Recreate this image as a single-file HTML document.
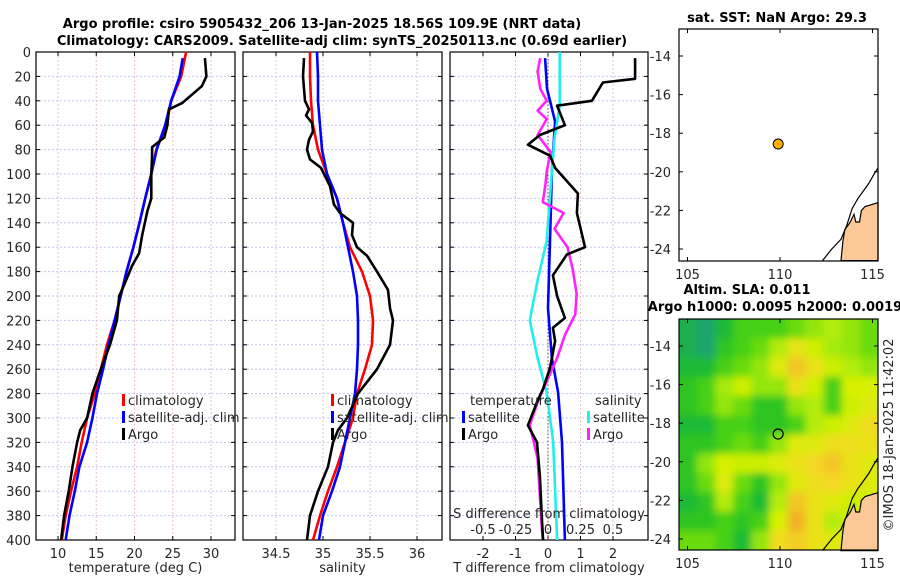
<!DOCTYPE html>
<html><head><meta charset="utf-8"><style>
body{margin:0;background:#fff;}
svg{display:block;font-family:"DejaVu Sans","Liberation Sans",sans-serif;}
.t{font-size:13px;fill:#262626;}
.b{font-size:13px;font-weight:bold;fill:#000;}
</style></head><body>
<svg id="fig" width="900" height="580" viewBox="0 0 900 580">
<text class="b" x="322" y="28" text-anchor="middle">Argo profile: csiro 5905432_206 13-Jan-2025 18.56S 109.9E (NRT data)</text>
<text class="b" x="342" y="45" text-anchor="middle">Climatology: CARS2009. Satellite-adj clim: synTS_20250113.nc (0.69d earlier)</text>
<text class="b" x="777" y="22" text-anchor="middle">sat. SST: NaN Argo: 29.3</text>
<text class="b" x="747" y="294" text-anchor="middle">Altim. SLA: 0.011</text>
<text class="b" x="775" y="311" text-anchor="middle">Argo h1000: 0.0095 h2000: 0.0019</text>
<text class="t" transform="translate(893,435) rotate(-90)" text-anchor="middle">©IMOS 18-Jan-2025 11:42:02</text>
<g id="g"></g>
</svg>
<script>
// ---- data ----
const climDepth=[0,20,40,60,80,100,120,140,160,180,200,220,240,260,280,300,320,340,360,380,400];
const climTemp=[26.75,26.1,24.8,24.15,22.85,22.2,21.4,20.65,19.85,18.95,18.2,17.4,16.4,15.6,14.8,13.8,13.1,12.5,11.7,11.0,10.5];
const satDepth=[5,20,40,60,80,100,120,140,160,180,200,220,240,260,280,300,320,340,360,380,400];
const satTemp=[26.3,25.9,24.8,24.0,22.9,22.2,21.4,20.65,19.85,18.95,18.2,17.4,16.6,15.9,15.1,14.5,13.8,12.8,12.2,11.5,11.0];
const argoDepth=[5,20,28,35,42,47,60,70,78,85,100,120,130,150,165,175,190,200,220,240,260,280,300,310,320,340,360,380,400];
const argoTemp=[29.2,29.4,28.8,27.5,26.2,24.5,24.3,23.9,22.3,22.3,22.2,22.2,21.7,21.0,20.6,19.7,18.7,18.0,17.7,16.8,15.6,14.5,13.8,12.9,12.5,11.9,11.4,10.8,10.4];
const climSal=[34.862,34.862,34.872,34.894,34.947,35.043,35.149,35.213,35.287,35.415,35.5,35.532,35.521,35.447,35.362,35.319,35.234,35.149,35.053,34.968,34.894];
const satSal=[34.936,34.947,34.947,34.968,34.989,35.043,35.149,35.213,35.266,35.319,35.362,35.372,35.372,35.362,35.340,35.287,35.234,35.181,35.096,35.0,34.957];
const argoSalDepth=[5,20,40,47,52,58,65,72,80,88,95,110,125,132,140,150,160,167,180,195,210,220,240,260,280,300,310,320,340,360,380,400];
const argoSal=[34.798,34.787,34.809,34.851,34.819,34.883,34.894,34.851,34.830,34.862,34.979,35.074,35.117,35.181,35.319,35.309,35.362,35.468,35.574,35.691,35.713,35.745,35.713,35.574,35.372,35.255,35.160,35.106,35.053,34.947,34.862,34.830];
const dTArgoDepth=[5,22,25,40,44,60,68,76,85,95,116,132,160,166,183,200,218,226,237,259,276,287,306,320,348,386,400];
const dTArgo=[2.68,2.68,1.69,1.35,0.28,0.52,-0.25,-0.62,0.06,0.22,0.92,0.89,1.14,0.58,0.15,0.28,0.52,0.15,0.22,0.06,-0.15,-0.34,-0.62,-0.34,-0.25,-0.18,-0.15];
const dSArgoDepth=[5,16,30,40,48,55,68,82,98,109,123,132,145,160,178,198,215,232,251,270,287,306,333,386,400];
const dSArgo=[-0.06,-0.08,-0.06,-0.01,-0.08,-0.01,-0.08,0.02,-0.01,-0.02,-0.04,0.12,0.05,0.15,0.19,0.22,0.21,0.13,0.07,-0.01,-0.08,-0.14,-0.08,-0.05,-0.04];
const dTSatDepth=[5,30,57,98,155,210,251,279,320,400];
const dTSat=[-0.09,-0.03,0.22,0.12,0.06,0,0.12,0.31,0.43,0.52];
const dSSatDepth=[0,44,71,112,155,187,220,251,279,320,400];
const dSSat=[0.09,0.09,0.05,0.02,-0.01,-0.08,-0.14,-0.08,-0.01,0.04,0.07];
const depthTicks=[0,20,40,60,80,100,120,140,160,180,200,220,240,260,280,300,320,340,360,380,400];
const tempTicks=[10,15,20,25,30];
const salTicks=[34.5,35,35.5,36];
const dTTicks=[-2,-1,0,1,2];
const dSTicks=[-0.5,-0.25,0,0.25,0.5];
const dSTickLabels=["-0.5","-0.25","0","0.25","0.5"];
const argoLon=109.9, argoLat=-18.56;
const lonTicks=[105,110,115];
const latTicks=[-14,-16,-18,-20,-22,-24];
// SLA field, rows top(north)->bottom, cols west->east, normalised 0..1
const slaGrid=[
[0.35,0.3,0.4,0.5,0.5,0.5,0.55,0.6,0.65,0.6,0.55],
[0.35,0.3,0.45,0.5,0.55,0.65,0.78,0.7,0.62,0.6,0.55],
[0.4,0.4,0.5,0.55,0.6,0.75,0.9,0.8,0.7,0.65,0.6],
[0.45,0.5,0.62,0.7,0.6,0.6,0.8,0.7,0.5,0.72,0.72],
[0.45,0.5,0.6,0.55,0.45,0.45,0.6,0.65,0.5,0.7,0.75],
[0.4,0.4,0.5,0.5,0.45,0.45,0.5,0.65,0.7,0.75,0.82],
[0.45,0.45,0.5,0.55,0.5,0.6,0.75,0.75,0.82,0.82,0.8],
[0.45,0.6,0.72,0.7,0.7,0.75,0.8,0.85,0.9,0.8,0.75],
[0.45,0.55,0.75,0.55,0.45,0.6,0.75,0.82,0.85,0.8,0.75],
[0.4,0.45,0.65,0.5,0.4,0.65,0.9,0.8,0.75,0.7,0.7],
[0.45,0.45,0.5,0.45,0.5,0.72,0.95,0.8,0.65,0.7,0.75],
[0.55,0.55,0.5,0.4,0.6,0.82,0.88,0.8,0.75,0.8,0.8]];
const landLon=[113.3,113.4,113.5,113.8,114.0,114.1,114.3,114.4,114.6,115.3,115.3];
const landLat=[-24.6,-23.6,-23.0,-22.6,-22.2,-22.6,-22.6,-22.0,-21.8,-21.6,-24.6];
const coastLon=[112.3,112.8,113.3,113.6,113.9,114.2,114.5,114.8,115.1,115.3];
const coastLat=[-24.6,-24.0,-23.5,-22.8,-21.9,-21.4,-21.0,-20.6,-20.1,-19.8];

// ---- helpers ----
const NS="http://www.w3.org/2000/svg";
const G=document.getElementById('g');
function mk(tag,at,parent){const e=document.createElementNS(NS,tag);for(const k in at)e.setAttribute(k,at[k]);(parent||G).appendChild(e);return e;}
const Y0=52,Y1=540,yD=d=>Y0+(d/400)*(Y1-Y0);
function lin(d0,d1,r0,r1){return v=>r0+(v-d0)/(d1-d0)*(r1-r0);}

function profileAxes(x0,x1,xs,ticks,labels,xlabel,name,showDepth){
  for(const d of depthTicks){
    const gl=mk('line',{x1:x0,x2:x1,y1:yD(d),y2:yD(d),stroke:'#c3c8ec','stroke-dasharray':'2,2','stroke-width':1});
    
    
    mk('line',{x1:x0,x2:x0+4,y1:yD(d),y2:yD(d),stroke:'#000'});
    mk('line',{x1:x1,x2:x1-4,y1:yD(d),y2:yD(d),stroke:'#000'});
    if(showDepth){const t=mk('text',{x:x0-5,y:yD(d)+5,'text-anchor':'end',class:'t'});t.textContent=d;
      
      }
  }
  ticks.forEach((v,i)=>{const x=xs(v);
    const gl=mk('line',{x1:x,x2:x,y1:Y0,y2:Y1,stroke:'#e6c3c3','stroke-dasharray':'2,2'});
    
    
    mk('line',{x1:x,x2:x,y1:Y1,y2:Y1-4,stroke:'#000'});
    mk('line',{x1:x,x2:x,y1:Y0,y2:Y0+4,stroke:'#000'});
    const t=mk('text',{x:x,y:Y1+18,'text-anchor':'middle',class:'t'});t.textContent=labels[i];
    
    
  });
  const r=mk('rect',{x:x0,y:Y0,width:x1-x0,height:Y1-Y0,fill:'none',stroke:'#000','stroke-width':1.2});
  
  
  const xl=mk('text',{x:(x0+x1)/2,y:572,'text-anchor':'middle',class:'t'});xl.textContent=xlabel;
  
  
}
function series(xs,vals,depths,color,name,w){
  const pts=vals.map((v,i)=>xs(v).toFixed(1)+','+yD(depths[i]).toFixed(1)).join(' ');
  const p=mk('polyline',{points:pts,fill:'none',stroke:color,'stroke-width':w||2.6,'stroke-linejoin':'round'});
  
  
}
function legendItem(x,y,color,label,name){
  mk('rect',{x:x,y:y-11,width:3,height:12,fill:color});
  const t=mk('text',{x:x+6,y:y,class:'t'});t.textContent=label;
  
  
}

// ---- panel 1: temperature ----
const xT=lin(10,30,58,211);
profileAxes(36,235,xT,tempTicks,tempTicks.map(String),'temperature (deg C)','temp-panel',true);
series(xT,climTemp,climDepth,'#ff0000','temp-climatology-line');
series(xT,satTemp,satDepth,'#0000ff','temp-satellite-line');
series(xT,argoTemp,argoDepth,'#000','temp-argo-line');
legendItem(122,405,'#ff0000','climatology','legend-climatology');
legendItem(122,422,'#0000ff','satellite-adj. clim','legend-satellite');
legendItem(122,439,'#000','Argo','legend-argo');

// ---- panel 2: salinity ----
const xS=lin(35,36,323,417);
profileAxes(243,442,xS,salTicks,salTicks.map(String),'salinity','sal-panel',false);
series(xS,climSal,climDepth,'#ff0000','sal-climatology-line');
series(xS,satSal,climDepth,'#0000ff','sal-satellite-line');
series(xS,argoSal,argoSalDepth,'#000','sal-argo-line');
legendItem(331,405,'#ff0000','climatology','legend-sal-climatology');
legendItem(331,422,'#0000ff','satellite-adj. clim','legend-sal-satellite');
legendItem(331,439,'#000','Argo','legend-sal-argo');

// ---- panel 3: differences ----
const xdT=lin(0,2,548,613);
const xdS=lin(0,0.5,548,613);
profileAxes(450,648,xdT,dTTicks,dTTicks.map(String),'T difference from climatology','diff-panel',false);
const zl=mk('line',{x1:xdT(0),x2:xdT(0),y1:Y0,y2:Y1,stroke:'#555','stroke-dasharray':'1.5,2'});


series(xdT,dTSat,dTSatDepth,'#0000ff','dT-satellite-line');
series(xdS,dSSat,dSSatDepth,'#22eeee','dS-satellite-line');
series(xdS,dSArgo,dSArgoDepth,'#ff22ff','dS-argo-line');
series(xdT,dTArgo,dTArgoDepth,'#000','dT-argo-line');
dSTicks.forEach((v,i)=>{const t=mk('text',{x:xdS(v),y:534,'text-anchor':'middle',class:'t'});t.textContent=dSTickLabels[i];
  
  });
{const t=mk('text',{x:549,y:518,'text-anchor':'middle',class:'t'});t.textContent='S difference from climatology';
 
 }
{const t=mk('text',{x:470,y:405,class:'t'});t.textContent='temperature';
 
 
 const s=mk('text',{x:595,y:405,class:'t'});s.textContent='salinity';
 
 }
legendItem(462,422,'#0000ff','satellite','legend-dT-satellite');
legendItem(462,439,'#000','Argo','legend-dT-argo');
legendItem(587,422,'#22eeee','satellite','legend-dS-satellite');
legendItem(587,439,'#ff22ff','Argo','legend-dS-argo');

// ---- maps ----
const mLon=lin(110,115,780,872.5);
function mapAxes(top,bot,name){
  const mLat=lin(-14,-24,top+27,top+27+193);
  lonTicks.forEach(v=>{const x=mLon(v);
    mk('line',{x1:x,x2:x,y1:bot,y2:bot-4,stroke:'#000'});mk('line',{x1:x,x2:x,y1:top,y2:top+4,stroke:'#000'});
    const t=mk('text',{x:x,y:bot+18,'text-anchor':'middle',class:'t'});t.textContent=v;
    
    });
  latTicks.forEach(v=>{const y=mLat(v);
    mk('line',{x1:679,x2:683,y1:y,y2:y,stroke:'#000'});mk('line',{x1:878,x2:874,y1:y,y2:y,stroke:'#000'});
    const t=mk('text',{x:671,y:y+5,'text-anchor':'end',class:'t'});t.textContent=v;
    
    });
  return mLat;
}
function drawLand(mLat,name){
  const pts=landLon.map((v,i)=>mLon(v).toFixed(1)+','+mLat(landLat[i]).toFixed(1)).join(' ');
  const p=mk('polygon',{points:pts,fill:'#fcc896',stroke:'#000','stroke-width':1.2});
  
  
  const c=coastLon.map((v,i)=>mLon(v).toFixed(1)+','+mLat(coastLat[i]).toFixed(1)).join(' ');
  const l=mk('polyline',{points:c,fill:'none',stroke:'#000','stroke-width':1.2});
  
  
}
// map 1
mk('rect',{x:679,y:29,width:199,height:232,fill:'#fff'});
const lat1=mapAxes(29,261,'sst-map');
drawLand(lat1,'sst-map');
{const c=mk('circle',{cx:mLon(argoLon),cy:lat1(argoLat),r:5,fill:'#ffb000',stroke:'#000','stroke-width':1});
 
 }
{const r=mk('rect',{x:679,y:29,width:199,height:232,fill:'none',stroke:'#000','stroke-width':1.2});
 
 }
// map 2 heatmap
const stops=[[0.3,[30,165,110]],[0.42,[30,190,40]],[0.52,[80,212,20]],[0.62,[165,234,10]],[0.72,[215,240,0]],[0.85,[245,215,40]],[1.0,[240,160,40]]];
function cmap(v){for(let i=1;i<stops.length;i++){if(v<=stops[i][0]){const a=stops[i-1],b=stops[i];const f=Math.max(0,(v-a[0])/(b[0]-a[0]));
  return 'rgb('+a[1].map((c,k)=>Math.round(c+(b[1][k]-c)*f)).join(',')+')';}}return 'rgb(240,160,40)';}
const defs=mk('defs',{});
const clip=mk('clipPath',{id:'mclip'},defs);mk('rect',{x:679,y:319,width:199,height:231},clip);
const flt=mk('filter',{id:'blur',x:'-10%',y:'-10%',width:'120%',height:'120%'},defs);mk('feGaussianBlur',{stdDeviation:4},flt);
const hg=mk('g',{'clip-path':'url(#mclip)'});
const hb=mk('g',{filter:'url(#blur)'},hg);
const nR=slaGrid.length,nC=slaGrid[0].length,cw=199/nC,ch=231/nR;
slaGrid.forEach((row,r)=>row.forEach((v,c)=>{
  const cell=mk('rect',{x:(679+c*cw-(c==0?12:0)).toFixed(1),y:(319+r*ch-(r==0?12:0)).toFixed(1),width:(cw+1+(c==0||c==nC-1?12:0)).toFixed(1),height:(ch+1+(r==0||r==nR-1?12:0)).toFixed(1),fill:cmap(v)},hb);
  
  
}));
const lat2=mapAxes(319,550,'sla-map');
drawLand(lat2,'sla-map');
{const c=mk('circle',{cx:mLon(argoLon),cy:lat2(argoLat),r:5,fill:'none',stroke:'#000','stroke-width':1.2});
 
 }
{const r=mk('rect',{x:679,y:319,width:199,height:231,fill:'none',stroke:'#000','stroke-width':1.2});
 
 }
</script>
</body></html>
